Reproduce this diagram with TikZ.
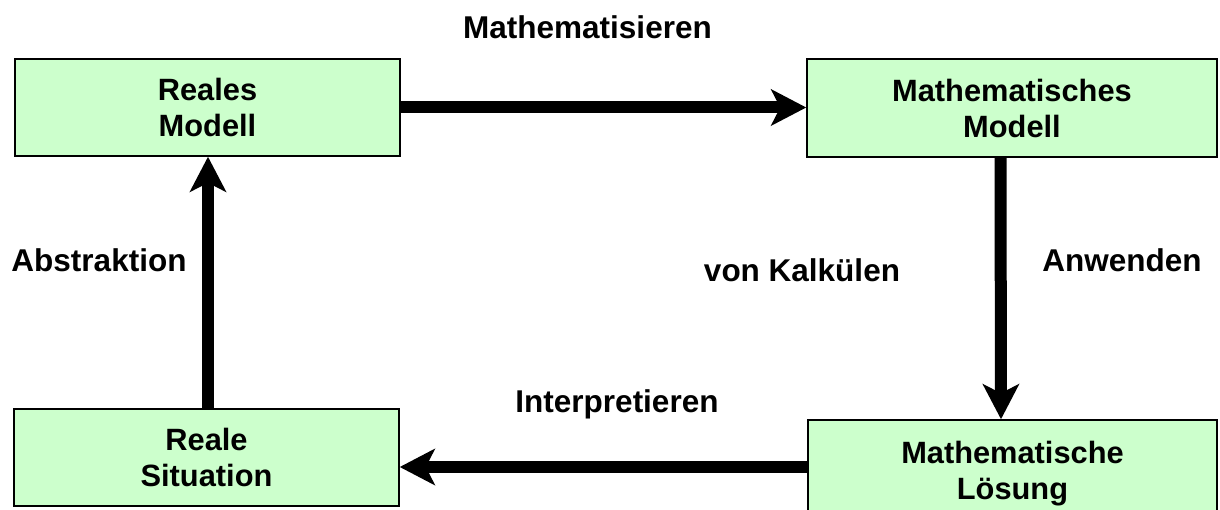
\documentclass[tikz,border=0pt]{standalone}
\usepackage{fontspec}
\setmainfont{Liberation Sans}
\usetikzlibrary{arrows.meta}
\definecolor{boxgreen}{HTML}{CCFFCC}
\begin{document}
\begin{tikzpicture}[x=1pt,y=-1pt,
  box/.style={draw=black, line width=1.5pt, fill=boxgreen, align=center,
    inner sep=0pt, font=\fontsize{30.8}{36}\selectfont\bfseries},
  lbl/.style={anchor=base, inner sep=0pt, font=\fontsize{31.5}{36}\selectfont\bfseries},
  arr/.style={line width=12pt, -{Stealth[length=35pt, width=36pt, inset=9pt]}}]
  \useasboundingbox (0,0) rectangle (1220,510);

  % the four stages of the modelling cycle
  \node[box, minimum width=385pt, minimum height=97pt] (rm) at (207.5,107.5) {Reales\\Modell};
  \node[box, minimum width=410pt, minimum height=98pt] (mm) at (1012,108) {Mathematisches\\Modell};
  \node[box, minimum width=385pt, minimum height=97pt] (rs) at (206.5,457.5) {Reale\\Situation};
  \node[box, minimum width=409pt, minimum height=107pt] (ml) at (1012.5,473.5) {Mathematische\\Lösung};

  % transitions between the stages
  \draw[arr] (rm.east) -- (rm.east -| mm.west);
  \draw[arr] ([xshift=-11.5pt]mm.south) -- ([xshift=-11.5pt]ml.north);
  \draw[arr] ([yshift=6.5pt]ml.west) -- ([yshift=6.5pt]ml.west -| rs.east);
  \draw[arr] ([xshift=1.5pt]rs.north) -- ([xshift=1.5pt]rs.north |- rm.south);

  % step labels
  \node[lbl] (lmath) at (587.5,39) {Mathematisieren};
  \node[lbl] (labs) at (99,272) {Abstraktion};
  \node[lbl] (lkalk) at (802,282) {von Kalkülen};
  \node[lbl] (lanw) at (1122,272) {Anwenden};
  \node[lbl] (lint) at (617,412) {Interpretieren};
\end{tikzpicture}
\end{document}
